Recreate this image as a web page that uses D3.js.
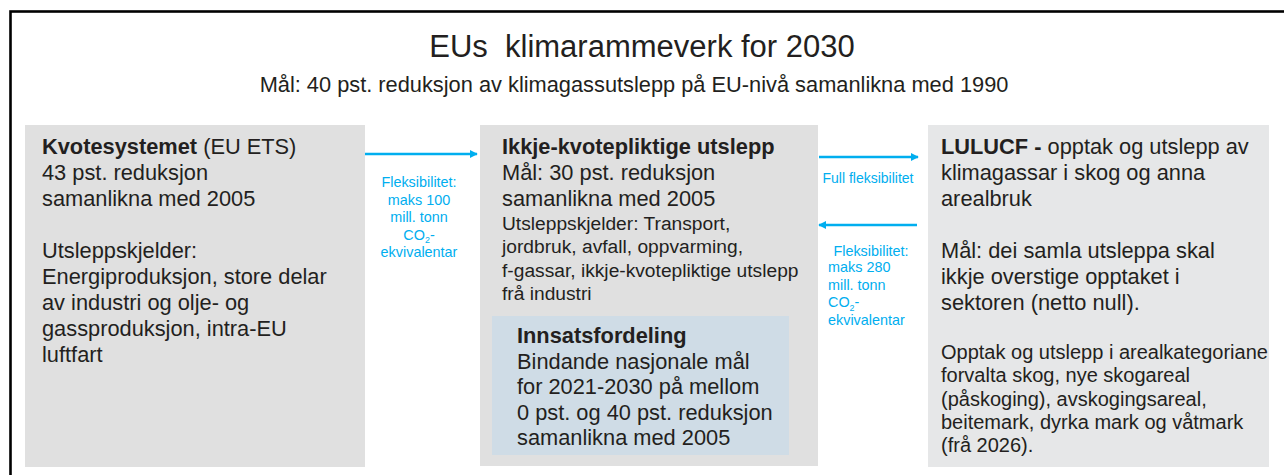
<!DOCTYPE html>
<html>
<head>
<meta charset="utf-8">
<script src="https://cdn.jsdelivr.net/npm/d3@7.9.0/dist/d3.min.js"></script>
<style>
  html, body { margin: 0; padding: 0; background: #fff; }
  svg { display: block; }
  text { font-family: "Liberation Sans", Arial, sans-serif; white-space: pre; }
</style>
</head>
<body>
<div id="chart"></div>
<script>
// ── Texts ──────────────────────────────────────────────────────────────────
// a line is either a plain string or a list of [text, style] segments
var titleText    = "EUs  klimarammeverk for 2030";
var subtitleText = "Mål: 40 pst. reduksjon av klimagassutslepp på EU-nivå samanlikna med 1990";

var etsLines = [
  [["Kvotesystemet", "b"], [" (EU ETS)", ""]],
  "43 pst. reduksjon",
  "samanlikna med 2005",
  "",
  "Utsleppskjelder:",
  "Energiproduksjon, store delar",
  "av industri og olje- og",
  "gassproduksjon, intra-EU",
  "luftfart"
];

var esrLines = [
  [["Ikkje-kvotepliktige utslepp", "b"]],
  "Mål: 30 pst. reduksjon",
  "samanlikna med 2005"
];
var esrSources = [
  "Utsleppskjelder: Transport,",
  "jordbruk, avfall, oppvarming,",
  "f-gassar, ikkje-kvotepliktige utslepp",
  "frå industri"
];
var effortLines = [
  [["Innsatsfordeling", "b"]],
  "Bindande nasjonale mål",
  "for 2021-2030 på mellom",
  "0 pst. og 40 pst. reduksjon",
  "samanlikna med 2005"
];

var luluLines = [
  [["LULUCF - ", "b"], ["opptak og utslepp av", ""]],
  "klimagassar i skog og anna",
  "arealbruk",
  "",
  "Mål: dei samla utsleppa skal",
  "ikkje overstige opptaket i",
  "sektoren (netto null)."
];
var luluDetail = [
  "Opptak og utslepp i arealkategoriane",
  "forvalta skog, nye skogareal",
  "(påskoging), avskogingsareal,",
  "beitemark, dyrka mark og våtmark",
  "(frå 2026)."
];

var flexEtsLines  = ["Fleksibilitet:", "maks 100", "mill. tonn", [["CO", ""], ["2", "sub"], ["-", ""]], "ekvivalentar"];
var flexFullLabel = "Full fleksibilitet";
var flexLuluHead  = "Fleksibilitet:";
var flexLuluLines = ["maks 280", "mill. tonn", [["CO", ""], ["2", "sub"], ["-", ""]], "ekvivalentar"];

// ── Layout ─────────────────────────────────────────────────────────────────
var W = 1284, H = 475;
var INK  = "#231f20";
var CYAN = "#00aeef";

var svg = d3.select("#chart").append("svg")
  .attr("width", W).attr("height", H)
  .attr("viewBox", "0 0 " + W + " " + H);

var defs = svg.append("defs");
defs.append("marker")
  .attr("id", "arr")
  .attr("viewBox", "0 0 10 10")
  .attr("refX", 9).attr("refY", 5)
  .attr("markerWidth", 3.2).attr("markerHeight", 3.2)
  .attr("markerUnits", "strokeWidth")
  .attr("orient", "auto")
  .append("path")
    .attr("d", "M0,0 L10,5 L0,10 Z")
    .attr("fill", CYAN);

// outer frame (runs off the right and bottom of the picture)
svg.append("rect")
  .attr("x", 10.5).attr("y", 11.5)
  .attr("width", 1300).attr("height", 520)
  .attr("fill", "none")
  .attr("stroke", "#000")
  .attr("stroke-width", 2.6);

// title block
svg.append("text")
  .attr("x", 642).attr("y", 57)
  .attr("text-anchor", "middle")
  .attr("font-size", "31px")
  .attr("fill", INK)
  .text(titleText);

svg.append("text")
  .attr("x", 634).attr("y", 92)
  .attr("text-anchor", "middle")
  .attr("font-size", "21.8px")
  .attr("fill", INK)
  .text(subtitleText);

// ── Boxes ──────────────────────────────────────────────────────────────────
var boxes = [
  { x: 25,  y: 125, w: 340, h: 342, fill: "#e0e0e0" },
  { x: 480, y: 125, w: 338, h: 341, fill: "#e0e0e0" },
  { x: 928, y: 125, w: 341, h: 342, fill: "#e6e7e8" },
  { x: 492, y: 316, w: 297, h: 139, fill: "#cfdce6" }
];
svg.append("g").selectAll("rect")
  .data(boxes)
  .join("rect")
    .attr("x", function (d) { return d.x; })
    .attr("y", function (d) { return d.y; })
    .attr("width", function (d) { return d.w; })
    .attr("height", function (d) { return d.h; })
    .attr("fill", function (d) { return d.fill; });

// ── Text helper ────────────────────────────────────────────────────────────
function block(lines, x, y0, lh, size, color, anchor) {
  var g = svg.append("g")
    .attr("font-size", size + "px")
    .attr("fill", color)
    .attr("text-anchor", anchor || "start");
  lines.forEach(function (line, i) {
    if (line === "") return;
    var t = g.append("text").attr("x", x).attr("y", y0 + i * lh);
    var segs = typeof line === "string" ? [[line, ""]] : line;
    var shifted = false;
    segs.forEach(function (s) {
      var ts = t.append("tspan").text(s[0]);
      if (s[1] === "b") ts.attr("font-weight", "bold");
      if (s[1] === "sub") {
        ts.attr("font-size", (size * 0.62) + "px").attr("dy", size * 0.25);
        shifted = true;
      } else if (shifted) {
        ts.attr("dy", -size * 0.25);
        shifted = false;
      }
    });
  });
  return g;
}

block(etsLines,    42,  154, 26,   21.8, INK);
block(esrLines,    502, 154, 26,   21.8, INK);
block(esrSources,  502, 229.5, 23.5, 19.2, INK);
block(effortLines, 517, 343, 25.5, 21.8, INK);
block(luluLines,   941, 154, 26,   21.8, INK);
block(luluDetail,  941, 359, 23.3, 20, INK);

// ── Flexibility arrows ─────────────────────────────────────────────────────
var arrows = [
  { x1: 365, x2: 477, y: 154 },
  { x1: 819, x2: 918, y: 157 },
  { x1: 917, x2: 819, y: 225 }
];
svg.append("g").selectAll("line")
  .data(arrows)
  .join("line")
    .attr("x1", function (d) { return d.x1; })
    .attr("x2", function (d) { return d.x2; })
    .attr("y1", function (d) { return d.y; })
    .attr("y2", function (d) { return d.y; })
    .attr("stroke", CYAN)
    .attr("stroke-width", 2.5)
    .attr("marker-end", "url(#arr)");

block(flexEtsLines, 419, 187, 17.6, 14.4, CYAN, "middle");
block([flexFullLabel], 868, 183, 17, 14, CYAN, "middle");
block([flexLuluHead], 871, 256, 17, 14.4, CYAN, "middle");
block(flexLuluLines, 828, 272, 17.7, 14.4, CYAN);
</script>
</body>
</html>
